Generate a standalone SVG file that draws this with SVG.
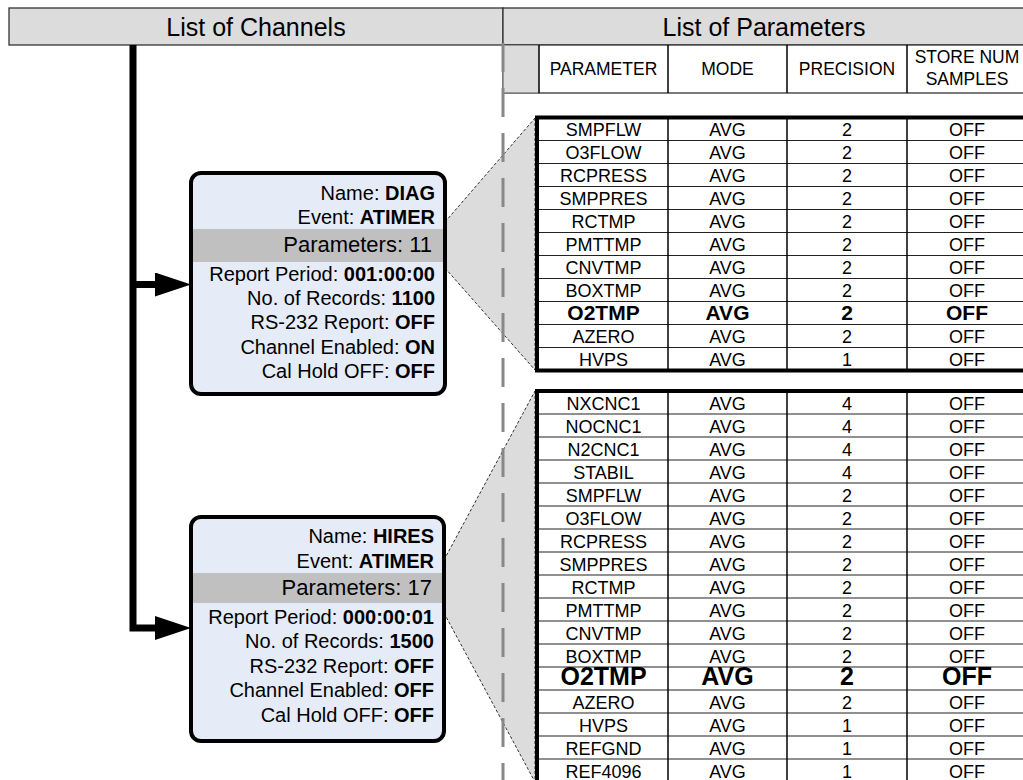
<svg xmlns="http://www.w3.org/2000/svg" width="1023" height="780" viewBox="0 0 1023 780">
<style>
text{font-family:"Liberation Sans",Arial,sans-serif;fill:#000}
.hdr{font-size:25px;text-anchor:middle}
.ch{font-size:17.5px;text-anchor:middle}
.lbl{font-size:20px;text-anchor:end}
.par{font-size:22px;text-anchor:end}
.b{font-weight:bold}
.cell{font-size:18px;text-anchor:middle}
.big1{font-size:21px;font-weight:bold;text-anchor:middle}
.big2{font-size:25px;font-weight:bold;text-anchor:middle}
.box{fill:#e5ecf7;stroke:#000;stroke-width:4}
.band{fill:#c0c0c0}
.funnel{fill:#dcdcdc;stroke:none}
.fedge{stroke:#000;stroke-width:0.8;stroke-dasharray:3 2;fill:none}
.tbl{fill:#fff;stroke:#000;stroke-width:4}
.rl{stroke:#222;stroke-width:1.2}
.cl{stroke:#000;stroke-width:1.5}
.trunk{stroke:#000;stroke-width:7;fill:none}
</style>
<defs>
<marker id="ah" markerUnits="userSpaceOnUse" markerWidth="38" markerHeight="26" refX="5" refY="12" orient="auto">
<path d="M0,0 L36,12 L0,24 Z" fill="#000"/>
</marker>
</defs>

<g id="header">
<rect x="9" y="8" width="494" height="37" fill="#dcdcdc" stroke="#333" stroke-width="1.3"/>
<rect x="503" y="8" width="530" height="37" fill="#dcdcdc" stroke="#333" stroke-width="1.3"/>
<text class="hdr" x="256" y="35.5">List of Channels</text>
<text class="hdr" x="764" y="35.5">List of Parameters</text>
</g>

<g id="column-headers">
<rect x="503" y="45" width="530" height="48" fill="#fff" stroke="#333" stroke-width="1.3"/>
<rect x="503.7" y="45.7" width="35.3" height="46.6" fill="#dcdcdc"/>
<line class="cl" x1="539" y1="45" x2="539" y2="93"/>
<line class="cl" x1="668" y1="45" x2="668" y2="93"/>
<line class="cl" x1="787" y1="45" x2="787" y2="93"/>
<line class="cl" x1="907" y1="45" x2="907" y2="93"/>
<text class="ch" x="603.5" y="75">PARAMETER</text>
<text class="ch" x="727.5" y="75">MODE</text>
<text class="ch" x="847" y="75">PRECISION</text>
<text class="ch" x="967" y="63">STORE NUM</text>
<text class="ch" x="967" y="85">SAMPLES</text>
</g>

<g id="funnels">
<polygon class="funnel" points="445,222 535,118 535,370 445,268"/>
<line class="fedge" x1="445" y1="222" x2="535" y2="118"/>
<line class="fedge" x1="445" y1="268" x2="535" y2="370"/>
<line class="fedge" x1="535" y1="118" x2="535" y2="370"/>
<polygon class="funnel" points="444,560 535,391 535,782 444,613"/>
<line class="fedge" x1="444" y1="560" x2="535" y2="391"/>
<line class="fedge" x1="444" y1="613" x2="535" y2="782"/>
<line class="fedge" x1="535" y1="391" x2="535" y2="782"/>
</g>

<g id="divider">
<line x1="503" y1="43" x2="503" y2="780" stroke="#888" stroke-width="3" stroke-dasharray="29 16"/>
</g>

<g id="connectors">
<path class="trunk" d="M133,45 V628 H160" marker-end="url(#ah)"/>
<path class="trunk" d="M133,284.5 H160" marker-end="url(#ah)"/>
</g>

<g id="channel-diag">
<rect class="box" x="191" y="173" width="254" height="221" rx="10"/>
<rect class="band" x="193" y="229" width="250" height="33"/>
<text class="lbl" x="435" y="200">Name: <tspan class="b">DIAG</tspan></text>
<text class="lbl" x="435" y="224">Event: <tspan class="b">ATIMER</tspan></text>
<text class="par" x="432" y="252">Parameters: 11</text>
<text class="lbl" x="435" y="281">Report Period: <tspan class="b">001:00:00</tspan></text>
<text class="lbl" x="435" y="305">No. of Records: <tspan class="b">1100</tspan></text>
<text class="lbl" x="435" y="329">RS-232 Report: <tspan class="b">OFF</tspan></text>
<text class="lbl" x="435" y="354">Channel Enabled: <tspan class="b">ON</tspan></text>
<text class="lbl" x="435" y="378">Cal Hold OFF: <tspan class="b">OFF</tspan></text>
</g>

<g id="channel-hires">
<rect class="box" x="191" y="517" width="253" height="224" rx="10"/>
<rect class="band" x="193" y="573" width="249" height="30"/>
<text class="lbl" x="434" y="543">Name: <tspan class="b">HIRES</tspan></text>
<text class="lbl" x="434" y="568">Event: <tspan class="b">ATIMER</tspan></text>
<text class="par" x="432" y="595">Parameters: 17</text>
<text class="lbl" x="434" y="624">Report Period: <tspan class="b">000:00:01</tspan></text>
<text class="lbl" x="434" y="648">No. of Records: <tspan class="b">1500</tspan></text>
<text class="lbl" x="434" y="673">RS-232 Report: <tspan class="b">OFF</tspan></text>
<text class="lbl" x="434" y="697">Channel Enabled: <tspan class="b">OFF</tspan></text>
<text class="lbl" x="434" y="722">Cal Hold OFF: <tspan class="b">OFF</tspan></text>
</g>

<g id="table-diag">
<rect class="tbl" x="537" y="117.5" width="500" height="253"/>
<line class="rl" x1="539" y1="140.5" x2="1030" y2="140.5"/>
<line class="rl" x1="539" y1="163.5" x2="1030" y2="163.5"/>
<line class="rl" x1="539" y1="186.5" x2="1030" y2="186.5"/>
<line class="rl" x1="539" y1="209.5" x2="1030" y2="209.5"/>
<line class="rl" x1="539" y1="232.5" x2="1030" y2="232.5"/>
<line class="rl" x1="539" y1="255.5" x2="1030" y2="255.5"/>
<line class="rl" x1="539" y1="278.5" x2="1030" y2="278.5"/>
<line class="rl" x1="539" y1="301.5" x2="1030" y2="301.5"/>
<line class="rl" x1="539" y1="324.5" x2="1030" y2="324.5"/>
<line class="rl" x1="539" y1="347.5" x2="1030" y2="347.5"/>
<line class="cl" x1="668" y1="117.5" x2="668" y2="370.5"/>
<line class="cl" x1="787" y1="117.5" x2="787" y2="370.5"/>
<line class="cl" x1="907" y1="117.5" x2="907" y2="370.5"/>
<g class="cell">
<text class="cell" x="603.5" y="136">SMPFLW</text><text class="cell" x="727.5" y="136">AVG</text><text class="cell" x="847" y="136">2</text><text class="cell" x="967" y="136">OFF</text>
<text class="cell" x="603.5" y="159">O3FLOW</text><text class="cell" x="727.5" y="159">AVG</text><text class="cell" x="847" y="159">2</text><text class="cell" x="967" y="159">OFF</text>
<text class="cell" x="603.5" y="182">RCPRESS</text><text class="cell" x="727.5" y="182">AVG</text><text class="cell" x="847" y="182">2</text><text class="cell" x="967" y="182">OFF</text>
<text class="cell" x="603.5" y="205">SMPPRES</text><text class="cell" x="727.5" y="205">AVG</text><text class="cell" x="847" y="205">2</text><text class="cell" x="967" y="205">OFF</text>
<text class="cell" x="603.5" y="228">RCTMP</text><text class="cell" x="727.5" y="228">AVG</text><text class="cell" x="847" y="228">2</text><text class="cell" x="967" y="228">OFF</text>
<text class="cell" x="603.5" y="251">PMTTMP</text><text class="cell" x="727.5" y="251">AVG</text><text class="cell" x="847" y="251">2</text><text class="cell" x="967" y="251">OFF</text>
<text class="cell" x="603.5" y="274">CNVTMP</text><text class="cell" x="727.5" y="274">AVG</text><text class="cell" x="847" y="274">2</text><text class="cell" x="967" y="274">OFF</text>
<text class="cell" x="603.5" y="297">BOXTMP</text><text class="cell" x="727.5" y="297">AVG</text><text class="cell" x="847" y="297">2</text><text class="cell" x="967" y="297">OFF</text>
<text class="big1" x="603.5" y="320">O2TMP</text><text class="big1" x="727.5" y="320">AVG</text><text class="big1" x="847" y="320">2</text><text class="big1" x="967" y="320">OFF</text>
<text class="cell" x="603.5" y="343">AZERO</text><text class="cell" x="727.5" y="343">AVG</text><text class="cell" x="847" y="343">2</text><text class="cell" x="967" y="343">OFF</text>
<text class="cell" x="603.5" y="366">HVPS</text><text class="cell" x="727.5" y="366">AVG</text><text class="cell" x="847" y="366">1</text><text class="cell" x="967" y="366">OFF</text>
</g>
</g>

<g id="table-hires">
<rect class="tbl" x="537" y="391" width="500" height="391"/>
<line class="rl" x1="539" y1="414" x2="1030" y2="414"/>
<line class="rl" x1="539" y1="437" x2="1030" y2="437"/>
<line class="rl" x1="539" y1="460" x2="1030" y2="460"/>
<line class="rl" x1="539" y1="483" x2="1030" y2="483"/>
<line class="rl" x1="539" y1="506" x2="1030" y2="506"/>
<line class="rl" x1="539" y1="529" x2="1030" y2="529"/>
<line class="rl" x1="539" y1="552" x2="1030" y2="552"/>
<line class="rl" x1="539" y1="575" x2="1030" y2="575"/>
<line class="rl" x1="539" y1="598" x2="1030" y2="598"/>
<line class="rl" x1="539" y1="621" x2="1030" y2="621"/>
<line class="rl" x1="539" y1="644" x2="1030" y2="644"/>
<line class="rl" x1="539" y1="667" x2="1030" y2="667"/>
<line class="rl" x1="539" y1="690" x2="1030" y2="690"/>
<line class="rl" x1="539" y1="713" x2="1030" y2="713"/>
<line class="rl" x1="539" y1="736" x2="1030" y2="736"/>
<line class="rl" x1="539" y1="759" x2="1030" y2="759"/>
<line class="cl" x1="668" y1="391" x2="668" y2="782"/>
<line class="cl" x1="787" y1="391" x2="787" y2="782"/>
<line class="cl" x1="907" y1="391" x2="907" y2="782"/>
<text class="cell" x="603.5" y="409.5">NXCNC1</text><text class="cell" x="727.5" y="409.5">AVG</text><text class="cell" x="847" y="409.5">4</text><text class="cell" x="967" y="409.5">OFF</text>
<text class="cell" x="603.5" y="432.5">NOCNC1</text><text class="cell" x="727.5" y="432.5">AVG</text><text class="cell" x="847" y="432.5">4</text><text class="cell" x="967" y="432.5">OFF</text>
<text class="cell" x="603.5" y="455.5">N2CNC1</text><text class="cell" x="727.5" y="455.5">AVG</text><text class="cell" x="847" y="455.5">4</text><text class="cell" x="967" y="455.5">OFF</text>
<text class="cell" x="603.5" y="478.5">STABIL</text><text class="cell" x="727.5" y="478.5">AVG</text><text class="cell" x="847" y="478.5">4</text><text class="cell" x="967" y="478.5">OFF</text>
<text class="cell" x="603.5" y="501.5">SMPFLW</text><text class="cell" x="727.5" y="501.5">AVG</text><text class="cell" x="847" y="501.5">2</text><text class="cell" x="967" y="501.5">OFF</text>
<text class="cell" x="603.5" y="524.5">O3FLOW</text><text class="cell" x="727.5" y="524.5">AVG</text><text class="cell" x="847" y="524.5">2</text><text class="cell" x="967" y="524.5">OFF</text>
<text class="cell" x="603.5" y="547.5">RCPRESS</text><text class="cell" x="727.5" y="547.5">AVG</text><text class="cell" x="847" y="547.5">2</text><text class="cell" x="967" y="547.5">OFF</text>
<text class="cell" x="603.5" y="570.5">SMPPRES</text><text class="cell" x="727.5" y="570.5">AVG</text><text class="cell" x="847" y="570.5">2</text><text class="cell" x="967" y="570.5">OFF</text>
<text class="cell" x="603.5" y="593.5">RCTMP</text><text class="cell" x="727.5" y="593.5">AVG</text><text class="cell" x="847" y="593.5">2</text><text class="cell" x="967" y="593.5">OFF</text>
<text class="cell" x="603.5" y="616.5">PMTTMP</text><text class="cell" x="727.5" y="616.5">AVG</text><text class="cell" x="847" y="616.5">2</text><text class="cell" x="967" y="616.5">OFF</text>
<text class="cell" x="603.5" y="639.5">CNVTMP</text><text class="cell" x="727.5" y="639.5">AVG</text><text class="cell" x="847" y="639.5">2</text><text class="cell" x="967" y="639.5">OFF</text>
<text class="cell" x="603.5" y="662.5">BOXTMP</text><text class="cell" x="727.5" y="662.5">AVG</text><text class="cell" x="847" y="662.5">2</text><text class="cell" x="967" y="662.5">OFF</text>
<text class="big2" x="603.5" y="685">O2TMP</text><text class="big2" x="727.5" y="685">AVG</text><text class="big2" x="847" y="685">2</text><text class="big2" x="967" y="685">OFF</text>
<text class="cell" x="603.5" y="708.5">AZERO</text><text class="cell" x="727.5" y="708.5">AVG</text><text class="cell" x="847" y="708.5">2</text><text class="cell" x="967" y="708.5">OFF</text>
<text class="cell" x="603.5" y="731.5">HVPS</text><text class="cell" x="727.5" y="731.5">AVG</text><text class="cell" x="847" y="731.5">1</text><text class="cell" x="967" y="731.5">OFF</text>
<text class="cell" x="603.5" y="754.5">REFGND</text><text class="cell" x="727.5" y="754.5">AVG</text><text class="cell" x="847" y="754.5">1</text><text class="cell" x="967" y="754.5">OFF</text>
<text class="cell" x="603.5" y="777.5">REF4096</text><text class="cell" x="727.5" y="777.5">AVG</text><text class="cell" x="847" y="777.5">1</text><text class="cell" x="967" y="777.5">OFF</text>
</g>
</svg>
